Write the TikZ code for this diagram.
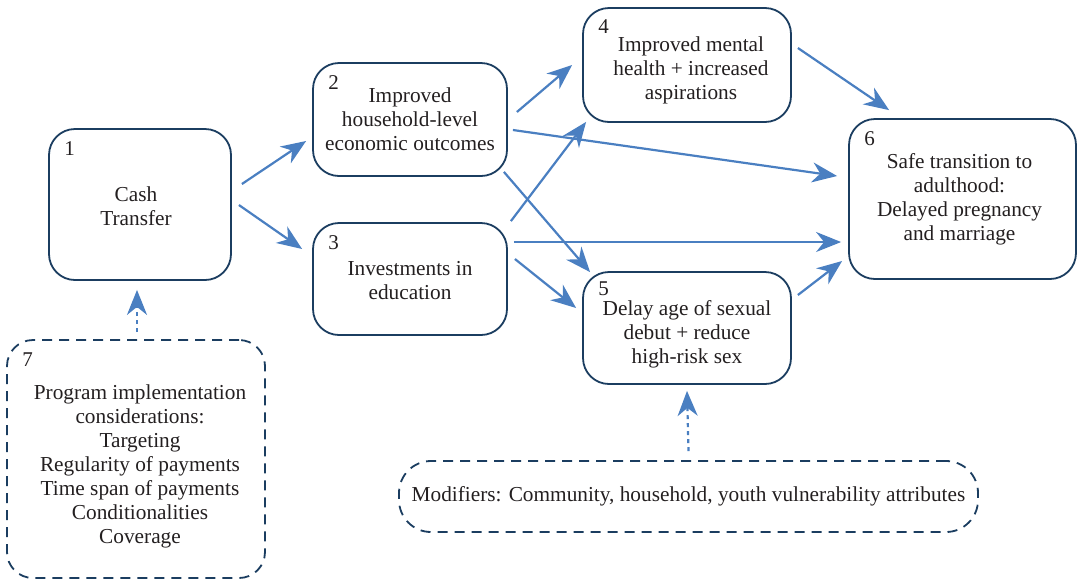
\documentclass[tikz,border=0pt]{standalone}
\usepackage{fontspec}
\setmainfont{Liberation Serif}
\usetikzlibrary{calc,positioning,arrows.meta}
\definecolor{boxline}{RGB}{27,61,96}
\definecolor{flowblue}{RGB}{74,127,193}
\definecolor{ink}{RGB}{35,31,32}

\tikzset{
  stage/.style={draw=boxline, line width=1.8pt, rounded corners=26pt, inner sep=0pt},
  extbox/.style={stage, dash pattern=on 10pt off 7pt},
  caption/.style={align=center, inner sep=0pt, text=ink, font=\fontsize{21.3}{24}\selectfont},
  num/.style={anchor=north west, inner sep=0pt, xshift=16pt, yshift=-13pt,
    text=ink, font=\fontsize{21}{24}\selectfont},
  flow/.style={draw=flowblue, line width=2.2pt, -{Stealth[length=25pt,width=20pt,inset=8pt]}},
  influence/.style={flow, dash pattern=on 4pt off 4pt},
}

\begin{document}
\begin{tikzpicture}[x=1pt,y=-1pt]
    \useasboundingbox (0,0) rectangle (1078,582);

    % pathway stages
    \node[stage, minimum width=182pt, minimum height=151pt, label={[num]north west:1}]
      (cash) at (140,204.5) {};
    \node[stage, minimum width=194pt, minimum height=113pt, label={[num]north west:2}]
      (econ) at (410,119.5) {};
    \node[stage, minimum width=194pt, minimum height=112pt, label={[num]north west:3}]
      (educ) at (410,279) {};
    \node[stage, minimum width=208pt, minimum height=114pt, label={[num, yshift=1pt]north west:4}]
      (mental) at (687,65) {};
    \node[stage, minimum width=208pt, minimum height=112pt, label={[num, yshift=3pt]north west:5}]
      (debut) at (687,328) {};
    \node[stage, minimum width=227pt, minimum height=160pt, label={[num]north west:6}]
      (adult) at (962.5,199) {};

    \node[caption] (cashtxt) at ($(cash.center)+(-4,2)$) {Cash\\Transfer};
    \node[caption] (econtxt) at ($(econ.center)+(0,0)$) {Improved\\household-level\\economic outcomes};
    \node[caption] (eductxt) at ($(educ.center)+(0,2)$) {Investments in\\education};
    \node[caption] (mentaltxt) at ($(mental.center)+(4,5)$) {Improved mental\\health + increased\\aspirations};
    \node[caption] (debuttxt) at ($(debut.center)+(0,6)$) {Delay age of sexual\\debut + reduce\\high-risk sex};
    \node[caption] (adulttxt) at ($(adult.center)+(-3,0)$) {Safe transition to\\adulthood:\\Delayed pregnancy\\and marriage};

    % outside influences
    \node[extbox, minimum width=258pt, minimum height=238pt, label={[num]north west:7}]
      (program) at (136,459) {};
    \node[caption] (programtxt) at ($(program.center)+(4,7)$) {Program implementation\\considerations:\\Targeting\\Regularity of payments\\Time span of payments\\Conditionalities\\Coverage};
    \node[extbox, rounded corners=32pt, minimum width=579pt, minimum height=71pt]
      (modif) at (688.5,496.5) {};
    \node[caption] (modiftxt) at (modif.center) {Modifiers: Community, household, youth vulnerability attributes};

    \draw[flow] ($(cash.east)+(10,-20.5)$) -- ($(econ.west)+(-6,21.5)$);
    \draw[flow] ($(cash.east)+(7,0.5)$) -- ($(educ.west)+(-10,-30)$);

    \draw[flow] ($(econ.east)+(9,-7.5)$) -- ($(mental.west)+(-10,0)$);
    \draw[flow] ($(econ.east)+(5,10.5)$) -- ($(adult.west)+(-11,-23)$);
    \draw[flow] ($(econ.south east)+(-4,-5)$) -- ($(debut.north west)+(8,1)$);

    \draw[flow] ($(educ.north east)+(3,-1)$) -- ($(mental.south west)+(4,-1)$);
    \draw[flow] ($(educ.east)+(6,-37)$) -- ($(adult.west)+(-7,43)$);
    \draw[flow] ($(educ.east)+(7,-20)$) -- ($(debut.west)+(-6,-20)$);

    \draw[flow] ($(mental.east)+(6,-17)$) -- ($(adult.north west)+(41,-8)$);
    \draw[flow] ($(debut.east)+(6,-33)$) -- ($(adult.west)+(-6,62)$);

    \draw[influence] ($(program.north)+(1,-7)$) -- ($(cash.south)+(-3,9)$);
    \draw[influence] ($(modif.north)+(0,-9)$) -- ($(debut.south)+(0,6)$);
\end{tikzpicture}
\end{document}
